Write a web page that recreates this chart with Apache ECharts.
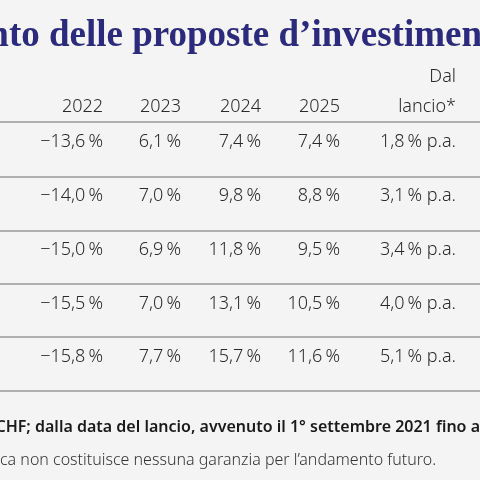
<!DOCTYPE html><html><head><meta charset="utf-8"><script src="https://cdn.jsdelivr.net/npm/echarts@6/dist/echarts.min.js"></script>
<style>html,body{margin:0;padding:0;background:#f4f4f4}#c{width:480px;height:480px}</style></head><body><div id="c"></div><script>
const years = ['2022','2023','2024','2025'];
const v2022 = [-13.6,-14.0,-15.0,-15.5,-15.8];
const v2023 = [6.1,7.0,6.9,7.0,7.7];
const v2024 = [7.4,9.8,11.8,13.1,15.7];
const v2025 = [7.4,8.8,9.5,10.5,11.6];
const vLaunch = [1.8,3.1,3.4,4.0,5.1];
const title = 'Andamento delle proposte d’investimento';
const note1 = 'Performance in CHF; dalla data del lancio, avvenuto il 1° settembre 2021 fino a';
const note2 = 'La performance storica non costituisce nessuna garanzia per l’andamento futuro.';

const colX = [103,181,261,340,456];
const rowY0 = 142, rowStep = 53.8;
const lineYs = [122,177,231,284,337,391];
const FONT = '"Noto Sans", sans-serif';
const fmt = v => (v<0?'\u2212':'') + Math.abs(v).toFixed(1).replace('.',',') + '\u2009%';

function measure(t, f){const c=document.createElement('canvas').getContext('2d');c.font=f;return c.measureText(t).width;}
const tFont = 'bold 37px "Liberation Serif"';
const titleX = 482 - measure('Andamento delle proposte d’investimen', tFont);
const n1Font = '600 16px "Noto Sans"';
const n1X = 480 - measure(note1, n1Font);
const n2Font = '300 16px "Noto Sans"';
const n2X = 0 - measure('La performance stori', n2Font);

const cols = [v2022,v2023,v2024,v2025,vLaunch];
const data = [];
cols.forEach((arr,ci)=>arr.forEach((v,ri)=>data.push({value:[colX[ci], rowY0+ri*rowStep], label:{formatter: fmt(v) + (ci===4?' p.a.':'')}})));
years.forEach((y,i)=>data.push({value:[colX[i],107],label:{formatter:y}}));
data.push({value:[colX[4],77],label:{formatter:'Dal'}});
data.push({value:[colX[4],107],label:{formatter:'lancio*'}});

const graphic = lineYs.map(y=>({type:'line',shape:{x1:0,y1:y,x2:480,y2:y},style:{stroke:'#999',lineWidth:1.5}}));
graphic.push({type:'text',x:titleX,y:36,style:{text:title,font:tFont,fill:'#2b2a7d',textVerticalAlign:'middle'}});
graphic.push({type:'text',x:n1X,y:427,style:{text:note1,font:n1Font,fill:'#1a1a1a',textVerticalAlign:'middle'}});
graphic.push({type:'text',x:n2X,y:460,style:{text:note2,font:n2Font,fill:'#333',textVerticalAlign:'middle'}});

const chart = echarts.init(document.getElementById('c'));
chart.setOption({
  backgroundColor:'#f4f4f4', animation:false,
  grid:{left:0,right:0,top:0,bottom:0},
  xAxis:{type:'value',min:0,max:480,show:false},
  yAxis:{type:'value',min:0,max:480,inverse:true,show:false},
  series:[{type:'scatter',symbolSize:0,data:data,itemStyle:{color:'#2a2a2a'},
    label:{show:true,position:'inside',align:'right',verticalAlign:'middle',fontFamily:FONT,fontWeight:300,fontSize:18,color:'#2a2a2a',opacity:1}}],
  graphic: graphic
});
</script></body></html>
